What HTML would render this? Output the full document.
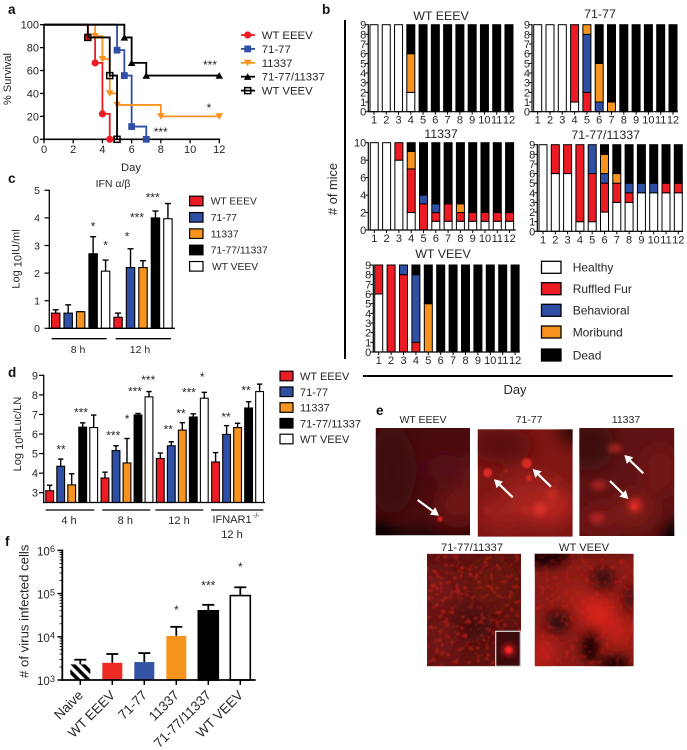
<!DOCTYPE html>
<html>
<head>
<meta charset="utf-8">
<title>Multi-panel figure</title>
<style>
html,body{margin:0;padding:0;background:#fff}
svg{display:block;font-family:"Liberation Sans",sans-serif}
text{fill:#262626}
</style>
</head>
<body>
<svg id="fig" width="687" height="750" viewBox="0 0 687 750" xmlns="http://www.w3.org/2000/svg">
<defs>
<pattern id="hatch" width="7" height="7" patternUnits="userSpaceOnUse" patternTransform="rotate(-45)"><rect width="7" height="7" fill="#fff"/><rect width="3.6" height="7" fill="#000"/></pattern>
<filter id="b1" x="-50%" y="-50%" width="200%" height="200%"><feGaussianBlur stdDeviation="1"/></filter>
<filter id="b3" x="-50%" y="-50%" width="200%" height="200%"><feGaussianBlur stdDeviation="3"/></filter>
<filter id="b5" x="-50%" y="-50%" width="200%" height="200%"><feGaussianBlur stdDeviation="5"/></filter>
<filter id="b9" x="-50%" y="-50%" width="200%" height="200%"><feGaussianBlur stdDeviation="9"/></filter>
<filter id="speck" x="0" y="0" width="100%" height="100%" color-interpolation-filters="sRGB"><feTurbulence type="fractalNoise" baseFrequency="0.2" numOctaves="2" seed="4"/><feColorMatrix type="matrix" values="0 0 0 0 0.92  0 0 0 0 0.14  0 0 0 0 0.1  6 0 0 0 -3.3"/><feGaussianBlur stdDeviation="0.6"/></filter>
<clipPath id="clipF"><rect x="0" y="545" width="60" height="140"/></clipPath>
<clipPath id="p1"><rect x="375.7" y="428" width="94.3" height="107.3"/></clipPath>
<clipPath id="p2"><rect x="477.7" y="429.3" width="95" height="107.4"/></clipPath>
<clipPath id="p3"><rect x="579.3" y="428" width="95" height="108"/></clipPath>
<clipPath id="p4"><rect x="427" y="553.7" width="94" height="112.6"/></clipPath>
<clipPath id="p5"><rect x="534.7" y="553.7" width="99" height="112.6"/></clipPath>
</defs>

<!-- panel letters -->
<text x="8" y="14" font-size="13.5" font-weight="bold" style="fill:#111">a</text>
<text x="322" y="14" font-size="13.5" font-weight="bold" style="fill:#111">b</text>
<text x="8" y="183" font-size="13.5" font-weight="bold" style="fill:#111">c</text>
<text x="8" y="377" font-size="13.5" font-weight="bold" style="fill:#111">d</text>
<text x="376" y="415" font-size="13.5" font-weight="bold" style="fill:#111">e</text>
<text x="5" y="546" font-size="13.5" font-weight="bold" style="fill:#111">f</text>

<!-- panel a static labels -->
<text transform="translate(11,79) rotate(-90)" text-anchor="middle" font-size="11">% Survival</text>
<text x="131" y="171" text-anchor="middle" font-size="11.2">Day</text>
<text x="210" y="69" text-anchor="middle" font-size="12">***</text>
<text x="209" y="112" text-anchor="middle" font-size="12">*</text>
<text x="160.7" y="136" text-anchor="middle" font-size="12">***</text>

<!-- panel c static labels -->
<text x="113" y="187" text-anchor="middle" font-size="10.5">IFN α/β</text>
<text transform="translate(19.5,259) rotate(-90)" text-anchor="middle" font-size="11">Log <tspan dy="2">10</tspan><tspan dy="-2">IU/ml</tspan></text>

<!-- panel d static labels -->
<text transform="translate(21,434) rotate(-90)" text-anchor="middle" font-size="11">Log <tspan dy="2">10</tspan><tspan dy="-2">nLuc/LN</tspan></text>

<!-- panel f static labels -->
<g clip-path="url(#clipF)">
<text transform="translate(28.5,678) rotate(-90)" font-size="13.2"># of virus infected cells</text>
</g>

<!-- panel b static -->
<line x1="345" y1="20" x2="345" y2="359" stroke="#000" stroke-width="2"/>
<line x1="363" y1="376" x2="672.7" y2="376" stroke="#000" stroke-width="2"/>
<text x="515" y="394" text-anchor="middle" font-size="13">Day</text>
<text transform="translate(337,189) rotate(-90)" text-anchor="middle" font-size="12.8"># of mice</text>

<!-- panel e photos -->
<g clip-path="url(#p1)">
<rect x="375.7" y="428" width="94.3" height="107.3" fill="#4a0c0e"/>
<g filter="url(#b9)"><ellipse cx="392" cy="470" rx="24" ry="44" fill="#3c090b"/><ellipse cx="458" cy="505" rx="20" ry="18" fill="#741817"/><ellipse cx="472" cy="480" rx="12" ry="24" fill="#681514"/><ellipse cx="445" cy="468" rx="16" ry="14" fill="#551112"/><rect x="365" y="532" width="115" height="14" fill="#000"/><ellipse cx="378" cy="530" rx="16" ry="10" fill="#000"/></g>
<circle cx="440" cy="519" r="2.6" fill="#e42222" filter="url(#b1)"/>
</g>
<g clip-path="url(#p2)">
<rect x="477.7" y="429.3" width="95" height="107.4" fill="#7e1713"/>
<g filter="url(#b9)"><ellipse cx="500" cy="445" rx="32" ry="18" fill="#5a100f"/><circle cx="574" cy="430" r="12" fill="#000"/><ellipse cx="545" cy="505" rx="28" ry="18" fill="#bc2722"/><ellipse cx="505" cy="512" rx="24" ry="14" fill="#a0221c"/><ellipse cx="530" cy="488" rx="28" ry="14" fill="#9c221b"/></g>
<g filter="url(#b3)"><circle cx="540" cy="509" r="6" fill="#e0302a"/><circle cx="552" cy="495" r="6" fill="#c42a22"/><circle cx="525" cy="510" r="3" fill="#c92a24"/><circle cx="487" cy="510" r="3" fill="#b42520"/><circle cx="557" cy="480" r="3" fill="#a8231e"/></g>
<g filter="url(#b1)"><circle cx="487.7" cy="472.7" r="4.5" fill="#dc2c26"/><circle cx="526.7" cy="463.3" r="5" fill="#d92a24"/><circle cx="529" cy="478" r="3" fill="#d42a22"/><circle cx="506" cy="471" r="1.6" fill="#b82520"/></g>
</g>
<g clip-path="url(#p3)">
<rect x="579.3" y="428" width="95" height="108" fill="#5e1314"/>
<g filter="url(#b9)"><ellipse cx="590" cy="445" rx="24" ry="26" fill="#3e0b0d"/><circle cx="678" cy="538" r="18" fill="#000"/><ellipse cx="660" cy="470" rx="18" ry="26" fill="#741817"/><ellipse cx="635" cy="510" rx="20" ry="18" fill="#801b18"/><ellipse cx="600" cy="520" rx="18" ry="16" fill="#781917"/></g>
<g filter="url(#b3)"><ellipse cx="615" cy="448" rx="7" ry="4.5" fill="#a82522"/><ellipse cx="599" cy="485" rx="8" ry="5" fill="#a42421"/><circle cx="635" cy="505" r="7" fill="#c92723"/><ellipse cx="597" cy="518" rx="7" ry="5" fill="#b52522"/></g>
<circle cx="634" cy="507" r="3" fill="#e02a24" filter="url(#b1)"/>
</g>
<g clip-path="url(#p4)">
<rect x="427" y="553.7" width="94" height="112.6" fill="#5c1310"/>
<g filter="url(#b9)"><ellipse cx="438" cy="590" rx="20" ry="22" fill="#741813"/><ellipse cx="470" cy="625" rx="22" ry="18" fill="#3f0e0e"/><ellipse cx="442" cy="640" rx="18" ry="24" fill="#6e1612"/><ellipse cx="490" cy="585" rx="24" ry="24" fill="#681411"/></g>
<rect x="427" y="553.7" width="94" height="112.6" filter="url(#speck)" opacity="0.4"/>
<g id="spots4" filter="url(#b1)"></g>
<rect x="495.7" y="631.3" width="24.6" height="35" fill="#3a0a0c" stroke="#ddd" stroke-width="1.2"/>
<circle cx="508.7" cy="650" r="7" fill="#9a1616" filter="url(#b3)"/>
<circle cx="508.7" cy="650" r="3.6" fill="#ff2222" filter="url(#b1)"/>
</g>
<g clip-path="url(#p5)">
<rect x="534.7" y="553.7" width="99" height="112.6" fill="#8a1b16"/>
<g filter="url(#b9)"><ellipse cx="598" cy="612" rx="16" ry="14" fill="#e8281c"/><ellipse cx="618" cy="632" rx="16" ry="11" fill="#cc2319"/><ellipse cx="543" cy="652" rx="11" ry="14" fill="#d4231a"/><ellipse cx="575" cy="598" rx="14" ry="14" fill="#a82018"/></g>
<g filter="url(#b5)"><ellipse cx="544" cy="558" rx="24" ry="9" fill="#120304"/><rect x="534" y="548" width="100" height="5" fill="#1a0506"/><circle cx="603" cy="578" r="11" fill="#3e0c0d"/><circle cx="558" cy="622" r="11" fill="#300909"/><ellipse cx="590" cy="648" rx="8" ry="15" fill="#150405"/><ellipse cx="614" cy="664" rx="16" ry="7" fill="#080202"/><ellipse cx="630" cy="598" rx="6" ry="13" fill="#4a0e0d"/></g>
<rect x="534.7" y="553.7" width="99" height="112.6" filter="url(#speck)" opacity="0.3"/>
</g>
<g id="arrows"></g>

<text x="423" y="423" text-anchor="middle" font-size="10.5">WT EEEV</text>
<text x="529" y="423" text-anchor="middle" font-size="10.5">71-77</text>
<text x="626" y="423" text-anchor="middle" font-size="10.5">11337</text>
<text x="472" y="551" text-anchor="middle" font-size="11.2">71-77/11337</text>
<text x="584" y="551" text-anchor="middle" font-size="11.2">WT VEEV</text>

<script>
/* ---------- shared categories ---------- */
const strains = ['WT EEEV', '71-77', '11337', '71-77/11337', 'WT VEEV'];
const strainColors = ['#ed1c24', '#2e4fa3', '#f7931e', '#000000', '#ffffff'];

/* ---------- panel a: survival ---------- */
const eeevDays = [0, 3, 3.5, 4, 4.5];
const eeevSurvival = [100, 88.9, 66.7, 22.2, 0];
const mutant7177Days = [0, 5, 5.5, 6, 7];
const mutant7177Survival = [100, 77.8, 55.6, 11.1, 0];
const mutant11337Days = [0, 3.5, 4, 4.5, 5, 8, 12];
const mutant11337Survival = [100, 90, 70, 40, 30, 20, 20];
const doubleMutantDays = [0, 5.5, 6, 7, 12];
const doubleMutantSurvival = [100, 88.9, 66.7, 55.6, 55.6];
const veevDays = [0, 3, 4.5, 5];
const veevSurvival = [100, 88.9, 55.6, 0];
const survivalXTicks = [0, 2, 4, 6, 8, 10, 12];
const survivalYTicks = [0, 20, 40, 60, 80, 100];

/* ---------- panel b: clinical score per day ---------- */
const scoreStates = ['Healthy', 'Ruffled Fur', 'Behavioral', 'Moribund', 'Dead'];
const scoreDays = [1, 2, 3, 4, 5, 6, 7, 8, 9, 10, 11, 12];

const eeevHealthy    = [9, 9, 9, 2, 0, 0, 0, 0, 0, 0, 0, 0];
const eeevRuffled    = [0, 0, 0, 0, 0, 0, 0, 0, 0, 0, 0, 0];
const eeevBehavioral = [0, 0, 0, 0, 0, 0, 0, 0, 0, 0, 0, 0];
const eeevMoribund   = [0, 0, 0, 4, 0, 0, 0, 0, 0, 0, 0, 0];
const eeevDead       = [0, 0, 0, 3, 9, 9, 9, 9, 9, 9, 9, 9];

const m7177Healthy    = [9, 9, 9, 1, 0, 0, 0, 0, 0, 0, 0, 0];
const m7177Ruffled    = [0, 0, 0, 8, 2, 0, 0, 0, 0, 0, 0, 0];
const m7177Behavioral = [0, 0, 0, 0, 6, 1, 0, 0, 0, 0, 0, 0];
const m7177Moribund   = [0, 0, 0, 0, 1, 4, 1, 0, 0, 0, 0, 0];
const m7177Dead       = [0, 0, 0, 0, 0, 4, 8, 9, 9, 9, 9, 9];

const m11337Healthy    = [10, 10, 8, 2, 0, 1, 1, 1, 1, 1, 1, 1];
const m11337Ruffled    = [0, 0, 2, 5, 3, 1, 2, 1, 1, 1, 1, 1];
const m11337Behavioral = [0, 0, 0, 0, 1, 1, 0, 0, 0, 0, 0, 0];
const m11337Moribund   = [0, 0, 0, 2, 0, 0, 0, 1, 0, 0, 0, 0];
const m11337Dead       = [0, 0, 0, 1, 6, 7, 7, 7, 8, 8, 8, 8];

const doubleHealthy    = [9, 6, 6, 1, 1, 2, 3, 3, 4, 4, 4, 4];
const doubleRuffled    = [0, 3, 3, 8, 5, 3, 2, 1, 0, 0, 1, 1];
const doubleBehavioral = [0, 0, 0, 0, 3, 1, 0, 1, 1, 1, 0, 0];
const doubleMoribund   = [0, 0, 0, 0, 0, 2, 1, 0, 0, 0, 0, 0];
const doubleDead       = [0, 0, 0, 0, 0, 1, 3, 4, 4, 4, 4, 4];

const veevHealthy    = [6, 0, 0, 0, 0, 0, 0, 0, 0, 0, 0, 0];
const veevRuffled    = [3, 9, 8, 1, 0, 0, 0, 0, 0, 0, 0, 0];
const veevBehavioral = [0, 0, 1, 7, 0, 0, 0, 0, 0, 0, 0, 0];
const veevMoribund   = [0, 0, 0, 0, 5, 0, 0, 0, 0, 0, 0, 0];
const veevDead       = [0, 0, 0, 1, 4, 9, 9, 9, 9, 9, 9, 9];

/* ---------- panel c: IFN ---------- */
const ifnTimes = ['8 h', '12 h'];
const ifnMeans = [0.55, 0.55, 0.6, 2.7, 2.07, 0.4, 2.2, 2.2, 4.0, 3.97];
const ifnErrorTops = [0.67, 0.85, 0.6, 3.32, 2.47, 0.55, 2.88, 2.45, 4.25, 4.52];
const ifnYTicks = [0, 1, 2, 3, 4, 5];
const ifnStarLabels = ['*', '*', '*', '***', '***'];
const ifnStarSlots = [3, 4, 5.72, 6.52, 7.78];
const ifnStarLevels = [3.78, 3.09, 3.42, 4.1, 4.83];

/* ---------- panel d: nLuc ---------- */
const lucGroups = ['4 h', '8 h', '12 h', 'IFNAR1'];
const lucMeans4h = [3.1, 4.35, 3.4, 6.35, 6.33];
const lucErrors4h = [3.38, 4.72, 3.97, 6.57, 6.97];
const lucMeans8h = [3.75, 5.15, 4.52, 6.97, 7.9];
const lucErrors8h = [4.05, 5.4, 5.77, 7.05, 8.17];
const lucMeans12h = [4.75, 5.4, 6.2, 6.87, 7.83];
const lucErrors12h = [5.03, 5.6, 6.58, 7.03, 8.13];
const lucMeansKo = [4.57, 5.98, 6.33, 7.33, 8.17];
const lucErrorsKo = [5.05, 6.43, 6.55, 7.65, 8.55];
const lucYTicks = [3, 4, 5, 6, 7, 8, 9];
const lucStarLabels = ['**', '***', '***', '*', '***', '***', '**', '**', '***', '*', '**', '**'];
const lucStarSlots = [1.03, 2.85, 5.78, 7.03, 7.75, 8.96, 10.78, 11.94, 12.66, 13.87, 16.03, 17.85];
const lucStarLevels = [5.35, 7.23, 6.05, 6.91, 8.3, 8.9, 6.37, 7.18, 8.25, 9.05, 7.0, 8.37];

/* ---------- panel f: infected cells ---------- */
const cellCategories = ['Naive', 'WT EEEV', '71-77', '11337', '71-77/11337', 'WT VEEV'];
const cellCounts = [2300, 2500, 2600, 10500, 40000, 90000];
const cellErrorTops = [2950, 4000, 4200, 17000, 55000, 140000];
const cellExponents = [3, 4, 5, 6];
const cellMinorMultipliers = [2, 3, 4, 5, 6, 7, 8, 9];
const cellStarLabels = ['*', '***', '*'];
const cellStarSlots = [3, 4, 5];
const cellStarLevels = [4.68, 5.25, 5.68];

/* ---------- helpers ---------- */
const NS = 'http://www.w3.org/2000/svg';
const fig = document.getElementById('fig');
function make(tag, attrs, parent) {
  const n = document.createElementNS(NS, tag);
  for (const k in attrs) n.setAttribute(k, attrs[k]);
  (parent || fig).appendChild(n);
  return n;
}
function label(x, y, str, size, anchor, parent) {
  const t = make('text', { x: x, y: y, 'font-size': size, 'text-anchor': anchor || 'middle' }, parent);
  t.textContent = str;
  return t;
}
function line(x1, y1, x2, y2, width, color, parent) {
  return make('line', { x1: x1, y1: y1, x2: x2, y2: y2, stroke: color || '#000', 'stroke-width': width }, parent);
}

/* ---------- draw panel a ---------- */
const aX = d => 44 + d * 175.3 / 12;
const aY = v => 139.3 - v * 1.146;
const panelA = make('g', {});


const aAxisY = line(44, aY(0), 44, aY(100) - 0.8, 1.6, '#000', panelA);


const aAxisX = line(43.2, aY(0), aX(12) + 0.8, aY(0), 1.6, '#000', panelA);


survivalYTicks.forEach(v => {
  line(40, aY(v), 44, aY(v), 1.3, '#000', panelA);
  const t = label(39, aY(v) + 4, String(v), 11, 'end', panelA);
  
  
});
survivalXTicks.forEach(v => {
  line(aX(v), aY(0), aX(v), aY(0) + 4, 1.3, '#000', panelA);
  const t = label(aX(v), 153, String(v), 11, 'middle', panelA);
  
  
});
function drawMarker(shape, x, y, color, parent) {
  let m;
  if (shape === 'circle') m = make('circle', { cx: x, cy: y, r: 3.6, fill: color }, parent);
  if (shape === 'square') m = make('rect', { x: x - 3.4, y: y - 3.4, width: 6.8, height: 6.8, fill: color }, parent);
  if (shape === 'down') m = make('polygon', { points: (x - 3.8) + ',' + (y - 3.2) + ' ' + (x + 3.8) + ',' + (y - 3.2) + ' ' + x + ',' + (y + 3.4), fill: color }, parent);
  if (shape === 'up') m = make('polygon', { points: (x - 3.8) + ',' + (y + 3.2) + ' ' + (x + 3.8) + ',' + (y + 3.2) + ' ' + x + ',' + (y - 3.4), fill: color }, parent);
  if (shape === 'open') m = make('rect', { x: x - 3, y: y - 3, width: 6, height: 6, fill: 'none', stroke: color, 'stroke-width': 1.5 }, parent);
  return m;
}
const survivalSeries = [
  { name: 'wt-eeev', days: eeevDays, vals: eeevSurvival, color: '#ed1c24', shape: 'circle' },
  { name: '71-77', days: mutant7177Days, vals: mutant7177Survival, color: '#2e4fa3', shape: 'square' },
  { name: '11337', days: mutant11337Days, vals: mutant11337Survival, color: '#f7931e', shape: 'down' },
  { name: 'double', days: doubleMutantDays, vals: doubleMutantSurvival, color: '#000000', shape: 'up' },
  { name: 'wt-veev', days: veevDays, vals: veevSurvival, color: '#000000', shape: 'open' }
];
survivalSeries.forEach(s => {
  let d = 'M' + aX(s.days[0]) + ' ' + aY(s.vals[0]);
  for (let i = 1; i < s.days.length; i++) d += 'H' + aX(s.days[i]) + 'V' + aY(s.vals[i]);
  const p = make('path', { d: d, fill: 'none', stroke: s.color, 'stroke-width': 1.8 }, panelA);
  
  
  s.days.slice(1).forEach((day, i) => {
    const m = drawMarker(s.shape, aX(day), aY(s.vals[i + 1]), s.color, panelA);
    
    
  });
});
const aLegendShapes = ['circle', 'square', 'down', 'up', 'open'];
const aLegendLineColors = ['#ed1c24', '#2e4fa3', '#f7931e', '#000000', '#000000'];
strains.forEach((s, i) => {
  const y = 35 + i * 13.9;
  const g = make('g', {});
  
  
  line(241, y, 255, y, 1.8, aLegendLineColors[i], g);
  drawMarker(aLegendShapes[i], 247.7, y, aLegendLineColors[i], g);
  label(261.7, y + 4, s, 11.4, 'start', g);
});

/* ---------- draw panel b ---------- */
const stateFills = ['#ffffff', '#ed1c24', '#2e4fa3', '#f7931e', '#000000'];
const scorePanels = [
  { name: 'wt-eeev', title: 'WT EEEV', tx: 441, ty: 20, x0: 374, dx: 12.27, axL: 368.3, axR: 514, yTop: 24.7, yBot: 111.7, max: 9, step: 1,
    layers: [eeevHealthy, eeevRuffled, eeevBehavioral, eeevMoribund, eeevDead] },
  { name: '71-77', title: '71-77', tx: 600, ty: 18, x0: 537.7, dx: 12.3, axL: 532, axR: 678, yTop: 24.7, yBot: 111.7, max: 9, step: 1,
    layers: [m7177Healthy, m7177Ruffled, m7177Behavioral, m7177Moribund, m7177Dead] },
  { name: '11337', title: '11337', tx: 441, ty: 138, x0: 374.3, dx: 12.3, axL: 368.3, axR: 515.7, yTop: 142.7, yBot: 230, max: 10, step: 2,
    layers: [m11337Healthy, m11337Ruffled, m11337Behavioral, m11337Moribund, m11337Dead] },
  { name: '71-77-11337', title: '71-77/11337', tx: 605.7, ty: 139, x0: 543, dx: 12.3, axL: 537.3, axR: 683, yTop: 144.7, yBot: 231.3, max: 9, step: 1,
    layers: [doubleHealthy, doubleRuffled, doubleBehavioral, doubleMoribund, doubleDead] },
  { name: 'wt-veev', title: 'WT VEEV', tx: 443, ty: 258, x0: 378.7, dx: 12.4, axL: 373.3, axR: 520, yTop: 265, yBot: 352, max: 9, step: 1,
    layers: [veevHealthy, veevRuffled, veevBehavioral, veevMoribund, veevDead] }
];
scorePanels.forEach(c => {
  const g = make('g', {});
  
  
  const t = label(c.tx, c.ty, c.title, 12.4, 'middle', g);
  
  
  const sy = v => c.yBot - v * (c.yBot - c.yTop) / c.max;
  scoreDays.forEach((day, i) => {
    const cx = c.x0 + i * c.dx;
    let base = 0;
    c.layers.forEach((layer, k) => {
      const v = layer[i];
      if (v > 0) {
        const r = make('rect', { x: cx - 4, y: sy(base + v), width: 8, height: sy(base) - sy(base + v), fill: stateFills[k], stroke: '#000', 'stroke-width': 1 }, g);
        
        
      }
      base += v;
    });
    line(cx, c.yBot, cx, c.yBot + 3, 1, '#000', g);
    const dayLabel = label(cx, c.yBot + 12, String(day), 11, 'middle', g);
    
    
  });
  line(c.axL, c.yTop - 0.5, c.axL, c.yBot + 0.5, 1.2, '#000', g);
  line(c.axL, c.yBot, c.axR, c.yBot, 1.2, '#000', g);
  for (let v = 0; v <= c.max; v += c.step) {
    line(c.axL - 3, sy(v), c.axL, sy(v), 1, '#000', g);
    const yl = label(c.axL - 2, sy(v) + 4, String(v), 11, 'end', g);
    
    
  }
});
scoreStates.forEach((s, i) => {
  const yc = [267.3, 288.7, 310.3, 332, 355][i];
  const g = make('g', {});
  
  
  make('rect', { x: 541.5, y: yc - 6, width: 19.5, height: 12, fill: stateFills[i], stroke: '#000', 'stroke-width': 1.3 }, g);
  label(572.7, yc + 4.3, s, 12, 'start', g);
});

/* ---------- draw panel c ---------- */
const cX = i => 55.7 + i * 12.47;
const cY = v => 328.3 - v * 27.6;
const panelC = make('g', {});


ifnMeans.forEach((v, i) => {
  const x = cX(i);
  const er = line(x, cY(v), x, cY(ifnErrorTops[i]), 1.4, '#000', panelC);
  
  
  line(x - 3, cY(ifnErrorTops[i]), x + 3, cY(ifnErrorTops[i]), 1.4, '#000', panelC);
  const b = make('rect', { x: x - 4.2, y: cY(v), width: 8.4, height: cY(0) - cY(v), fill: strainColors[i % 5], stroke: '#000', 'stroke-width': 1.1 }, panelC);
  
  
});
line(49.3, cY(5) - 0.6, 49.3, cY(0) + 0.6, 1.3, '#000', panelC);
line(49, cY(0), 175, cY(0), 1.3, '#000', panelC);
ifnYTicks.forEach(v => {
  line(44.5, cY(v), 49.3, cY(v), 1.2, '#000', panelC);
  const t = label(40, cY(v) + 3.8, String(v), 10.5, 'end', panelC);
  
  
});
ifnTimes.forEach((t, i) => {
  const gl = line(i ? 115.7 : 51.7, 338.7, i ? 171 : 106.7, 338.7, 1.3, '#000', panelC);
  
  
  const tl = label(i ? 140 : 78, 353, t, 10.5, 'middle', panelC);
  
  
});
ifnStarLabels.forEach((s, i) => {
  const t = label(cX(ifnStarSlots[i]), cY(ifnStarLevels[i]) + 6.6, s, 12, 'middle', panelC);
  
  
});
strains.forEach((s, i) => {
  const y = 201 + i * 16.33;
  const g = make('g', {});
  
  
  make('rect', { x: 189.6, y: y - 4.8, width: 13.4, height: 9.6, fill: strainColors[i], stroke: '#000', 'stroke-width': 1.2 }, g);
  label(i === 4 ? 212 : 210.7, y + 3.7, s, 10.3, 'start', g);
});

/* ---------- draw panel d ---------- */
const dX = slot => 49.7 + slot * 11;
const dY = v => 492.7 - (v - 3) * 19.56;
const dFloor = 2.5;
const panelD = make('g', {});


const lucMeanSets = [lucMeans4h, lucMeans8h, lucMeans12h, lucMeansKo];
const lucErrorSets = [lucErrors4h, lucErrors8h, lucErrors12h, lucErrorsKo];
lucMeanSets.forEach((means, g) => {
  means.forEach((v, i) => {
    const x = dX(i + g * 5.027);
    const top = lucErrorSets[g][i];
    const er = line(x, dY(v), x, dY(top), 1.4, '#000', panelD);
    
    
    line(x - 2.7, dY(top), x + 2.7, dY(top), 1.4, '#000', panelD);
    const b = make('rect', { x: x - 3.9, y: dY(v), width: 7.8, height: dY(dFloor) - dY(v), fill: strainColors[i], stroke: '#000', 'stroke-width': 1.1 }, panelD);
    
    
  });
});
line(43.7, dY(9) - 0.6, 43.7, dY(dFloor) + 0.6, 1.3, '#000', panelD);
line(43.3, dY(dFloor), 265, dY(dFloor), 1.3, '#000', panelD);
lucYTicks.forEach(v => {
  line(39, dY(v), 43.7, dY(v), 1.2, '#000', panelD);
  const t = label(38, dY(v) + 4, String(v), 11, 'end', panelD);
  
  
});
const bracketStarts = [45.7, 102.3, 155.3, 211];
const bracketEnds = [94.3, 150.3, 203.3, 263.3];
const bracketCenters = [69, 125.3, 179];
lucGroups.forEach((gName, i) => {
  const gl = line(bracketStarts[i], 510, bracketEnds[i], 510, 1.3, '#000', panelD);
  
  
  if (i < 3) {
    const tl = label(bracketCenters[i], 524, gName, 11, 'middle', panelD);
    
    
  }
});
const koLabel = label(232, 523, 'IFNAR1', 11, 'middle', panelD);


const koSup = label(253, 518, '-/-', 7, 'start', panelD);


const koTime = label(232, 538, '12 h', 11, 'middle', panelD);


lucStarLabels.forEach((s, i) => {
  const t = label(dX(lucStarSlots[i]), dY(lucStarLevels[i]) + 6.6, s, 12, 'middle', panelD);
  
  
});
strains.forEach((s, i) => {
  const y = 376 + i * 15.75;
  const g = make('g', {});
  
  
  make('rect', { x: 280, y: y - 4.8, width: 13, height: 9.6, fill: strainColors[i], stroke: '#000', 'stroke-width': 1.2 }, g);
  label(300, y + 4, s, 11, 'start', g);
});

/* ---------- draw panel f ---------- */
const fX = i => 80.3 + i * 32;
const fYLog = e => 680 - (e - 3) * 43.2;
const fY = v => fYLog(Math.log10(v));
const panelF = make('g', {});


const fFills = ['url(#hatch)', '#ed2a24', '#3453a4', '#f7941e', '#000000', '#ffffff'];
cellCounts.forEach((v, i) => {
  const x = fX(i);
  const er = line(x, fY(v), x, fY(cellErrorTops[i]), 1.8, '#000', panelF);
  
  
  line(x - 6, fY(cellErrorTops[i]), x + 6, fY(cellErrorTops[i]), 1.8, '#000', panelF);
  const outline = i === 0 || i === 1 || i === 2 || i === 3 ? 'none' : '#000';
  const b = make('rect', { x: x - 10, y: fY(v), width: 20, height: 680 - fY(v), fill: fFills[i], stroke: outline, 'stroke-width': 1.6 }, panelF);
  
  
  line(x, 680, x, 685, 1.5, '#000', panelF);
  const t = label(0, 0, cellCategories[i], 13.4, 'end', panelF);
  t.setAttribute('transform', 'translate(' + (x + 3.6) + ',696) rotate(-45)');
  
  
});
line(62.3, 549.6, 62.3, 680.8, 1.8, '#000', panelF);
line(61.4, 680, 255.7, 680, 1.8, '#000', panelF);
cellExponents.forEach(e => {
  const y = fYLog(e);
  line(57.5, y, 62.3, y, 1.5, '#000', panelF);
  const t = label(37, y + 5, '10', 11.5, 'start', panelF);
  
  
  const u = label(50, y + 1.8, String(e), 9, 'start', panelF);
  
  
  if (e < 6) {
    cellMinorMultipliers.forEach(m => {
      const my = fYLog(e + Math.log10(m));
      const mt = line(59.5, my, 62.3, my, 0.8, '#000', panelF);
      
      
    });
  }
});
cellStarLabels.forEach((s, i) => {
  const t = label(fX(cellStarSlots[i]), fYLog(cellStarLevels[i]) + 6.6, s, 12, 'middle', panelF);
  
  
});

/* ---------- panel e decoration ---------- */
const spots4 = document.getElementById('spots4');
const spotPairs = [[434,585],[437,588],[431,590],[441,583],[434,571],[446,565],[455,578],[459,571],[462,567],[470,574],[477,575],[479,582],[465,588],[458,591],[461,594],[470,569],[485,562],[500,569],[510,596],[497,588],[451,612],[463,617],[468,620],[476,618],[484,618],[492,620],[462,628],[458,634],[465,635],[470,648],[460,650],[478,648],[484,640],[490,630],[448,655],[440,640],[432,628],[434,660],[452,642],[445,622],[499,613],[512,610],[505,625],[478,660],[488,655],[445,598],[520,630],[428,598]];
spotPairs.forEach(p => {
  make('circle', { cx: p[0], cy: p[1], r: 1.3, fill: '#e02a22', opacity: 0.85 }, spots4);
});
const arrowPairs = [[417.7,500,439,515.7],[512.7,497.3,494,479.3],[551,486.7,532.7,469],[643.3,473.3,624.3,455],[610,481,628.3,499]];
const arrowsG = document.getElementById('arrows');
arrowPairs.forEach(a => {
  const ang = Math.atan2(a[3] - a[1], a[2] - a[0]);
  const bx = a[2] - 8 * Math.cos(ang), by = a[3] - 8 * Math.sin(ang);
  const g = make('g', {}, arrowsG);
  
  
  line(a[0], a[1], bx, by, 2.2, '#fff', g);
  const px = -Math.sin(ang) * 4.6, py = Math.cos(ang) * 4.6;
  make('polygon', { points: a[2] + ',' + a[3] + ' ' + (bx + px) + ',' + (by + py) + ' ' + (bx - px) + ',' + (by - py), fill: '#fff' }, g);
});
</script>
</svg>
</body>
</html>
